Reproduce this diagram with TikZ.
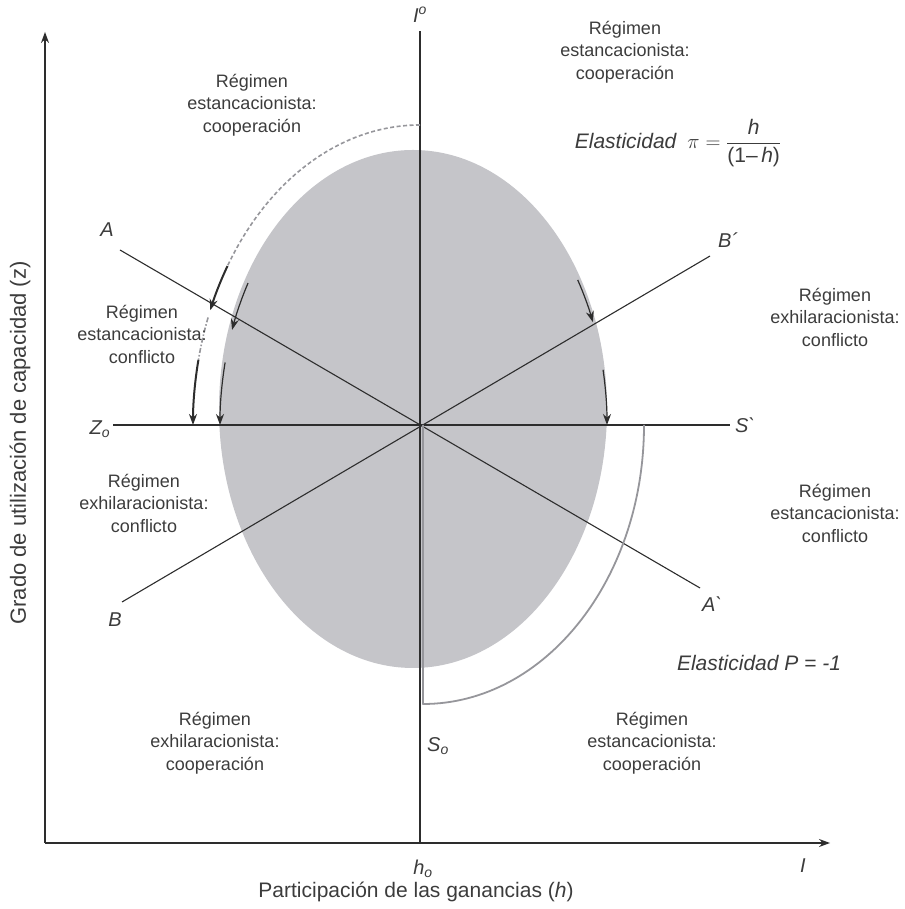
\documentclass[tikz,border=0pt]{standalone}
\usepackage{amsmath}
\usepackage{fontspec}
\setmainfont{Liberation Sans}
\usetikzlibrary{arrows.meta}
\definecolor{elgray}{RGB}{197,197,201}
\definecolor{ink}{RGB}{45,45,45}
\definecolor{txt}{RGB}{60,60,60}
\definecolor{arcgray}{RGB}{150,150,155}
\tikzset{
  regtxt/.style={align=center, text=txt, font=\fontsize{18}{22.5}\selectfont, inner sep=0pt},
  lbl/.style={text=txt, font=\fontsize{20}{22}\selectfont\itshape, inner sep=0pt},
  ln/.style={ink, line width=1.1pt},
  arrthick/.style={ink, line width=2pt, -{Stealth[length=11pt,width=8pt]}},
  arrthin/.style={ink, line width=1.2pt, -{Stealth[length=11pt,width=8pt]}},
}

\begin{document}
\begin{tikzpicture}[x=1pt,y=1pt]
\useasboundingbox (0,0) rectangle (904,909);
% shaded region
\fill[elgray] (413,500) ellipse [x radius=194pt, y radius=259pt];

\coordinate (O) at (420,484);
\coordinate (orig) at (45,66);
\coordinate (ytop) at (45,877);
\coordinate (xend) at (830,66);
\coordinate (vbot) at (420,66);
\coordinate (vtop) at (420,878);
\coordinate (zleft) at (113,484);
\coordinate (sright) at (730,484);
\coordinate (aleft) at (120,659);
\coordinate (aright) at (700,321);
\coordinate (bleft) at (122,307);
\coordinate (bright) at (710,653);

% axes
\draw[ln, -{Stealth[length=11pt,width=8pt]}] (orig) -- (ytop);
\draw[ln, -{Stealth[length=11pt,width=8pt]}] (orig) -- (xend);

% lines through the centre
\draw[ln] (vbot) -- (vtop);
\draw[ln] (zleft) -- (sright);
\draw[ln] (aleft) -- (aright);
\draw[ln] (bleft) -- (bright);

% outer arc on the left
\draw[arcgray, line width=1.6pt, dash pattern=on 4pt off 2.5pt]
  ([shift={(90:227 and 300)}]O) arc[start angle=90, end angle=148, x radius=227pt, y radius=300pt];
\draw[arrthick] ([shift={(148:227 and 300)}]O) arc[start angle=148, end angle=157.5, x radius=227pt, y radius=300pt];
\draw[arcgray, line width=1.6pt, dash pattern=on 5pt off 2pt on 1.5pt off 2pt]
  ([shift={(159:227 and 300)}]O) arc[start angle=159, end angle=167.5, x radius=227pt, y radius=300pt];
\draw[arrthick] ([shift={(167.5:227 and 300)}]O) arc[start angle=167.5, end angle=180, x radius=227pt, y radius=300pt];

% inner arcs
\draw[arrthin] ([shift={(149.3:200 and 278)}]O) arc[start angle=149.3, end angle=160, x radius=200pt, y radius=278pt];
\draw[arrthin] ([shift={(167:200 and 278)}]O) arc[start angle=167, end angle=180, x radius=200pt, y radius=278pt];
\draw[arrthin] ([shift={(32.5:187 and 270)}]O) arc[start angle=32.5, end angle=22.4, x radius=187pt, y radius=270pt];
\draw[arrthin] ([shift={(11.8:187 and 270)}]O) arc[start angle=11.8, end angle=0, x radius=187pt, y radius=270pt];

% bracket on the lower right
\coordinate (O2) at (423,484);
\draw[arcgray, line width=1.8pt, line join=round]
  ([shift={(0:221 and 279)}]O2) arc[start angle=0, end angle=-90, x radius=221pt, y radius=279pt] -- (O2);

% point labels
\node[lbl] (lA) at (107,679) {A};
\node[lbl] (lBp) at (728,669) {B\textasciiacute};
\node[lbl] (lB) at (115,289) {B};
\node[lbl] (lAp) at (712,305) {A\textasciigrave};
\node[lbl] (lZ) at (100,480) {Z\textsubscript{o}};
\node[lbl] (lS) at (745,484) {S\textasciigrave};
\node[lbl] (lS0) at (438,163) {S\textsubscript{o}};
\node[lbl] (lh0) at (423,40) {h\textsubscript{o}};
\node[lbl] (lI) at (803,43) {I};
\node[lbl] (lI0) at (420,894) {I\textsuperscript{o}};

% regimes
\node[regtxt] (r1) at (252,804) {Régimen\\estancacionista:\\cooperación};
\node[regtxt] (r2) at (625,857) {Régimen\\estancacionista:\\cooperación};
\node[regtxt] (r3) at (835,592) {Régimen\\exhilaracionista:\\conflicto};
\node[regtxt] (r4) at (142,575) {Régimen\\estancacionista:\\conflicto};
\node[regtxt] (r5) at (144,406) {Régimen\\exhilaracionista:\\conflicto};
\node[regtxt] (r6) at (835,396) {Régimen\\estancacionista:\\conflicto};
\node[regtxt] (r7) at (215,166) {Régimen\\exhilaracionista:\\cooperación};
\node[regtxt] (r8) at (652,166) {Régimen\\estancacionista:\\cooperación};

% elasticities
\node[lbl, font=\fontsize{21}{24}\selectfont] (e1) at (678,766)
  {\textit{Elasticidad}\enspace$\pi = \dfrac{\text{\textit{h}}}{\text{(1\textendash\,\textit{h})}}$};
\node[lbl, font=\fontsize{21}{24}\selectfont\itshape] (e2) at (759,246) {Elasticidad P = -1};

% axis titles
\node[regtxt, font=\fontsize{21}{24}\selectfont] (xt) at (416,17) {Participación de las ganancias (\textit{h})};
\node[regtxt, font=\fontsize{22}{24}\selectfont, rotate=90] (yt) at (20,466) {Grado de utilización de capacidad (z)};
\end{tikzpicture}
\end{document}
